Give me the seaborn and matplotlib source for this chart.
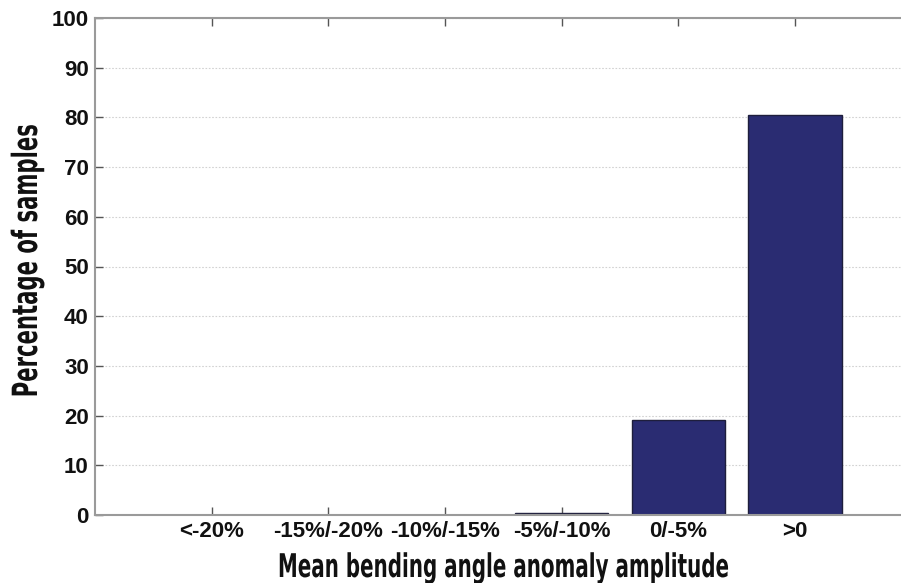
import matplotlib
matplotlib.use("Agg")
import matplotlib.pyplot as plt
from matplotlib.patheffects import AbstractPathEffect
from matplotlib.transforms import Affine2D
import seaborn as sns
import pandas as pd

categories = ["<-20%", "-15%/-20%", "-10%/-15%", "-5%/-10%", "0/-5%", ">0"]
percentages = [0.0, 0.0, 0.0, 0.4, 19.2, 80.5]
y_ticks = [0, 10, 20, 30, 40, 50, 60, 70, 80, 90, 100]

df = pd.DataFrame({"category": categories, "percent": percentages})


class Squeeze(AbstractPathEffect):
    """Draw text narrower along its own baseline, kept centred."""

    def __init__(self, sx):
        super().__init__()
        self.sx = sx

    def draw_path(self, renderer, gc, tpath, affine, rgbFace=None):
        ext = tpath.get_extents()
        cx = 0.5 * (ext.x0 + ext.x1)
        squeeze = Affine2D().translate(-cx, 0).scale(self.sx, 1).translate(cx, 0)
        renderer.draw_path(gc, tpath, squeeze + affine, rgbFace)


sns.set_theme(style="white")
plt.rcParams["font.family"] = ["Liberation Sans", "DejaVu Sans"]

fig = plt.figure(figsize=(9.01, 5.83), dpi=100)
W, H = 901, 583
left, right, top, bottom = 95, 911.7, 18, 515
ax = fig.add_axes([left / W, 1 - bottom / H, (right - left) / W, (bottom - top) / H])

sns.barplot(data=df, x="category", y="percent", color="#2a2c72",
            saturation=1, width=0.8, edgecolor="#1e1e3c", linewidth=1.0, ax=ax)

# categories sit at 1..6 with an empty slot on the left
for p in ax.patches:
    p.set_x(p.get_x() + 1)
ax.set_xticks(range(1, len(categories) + 1))
ax.set_xticklabels(categories)
ax.set_xlim(0, 7)
ax.set_ylim(0, 100)
ax.set_yticks(y_ticks)

ax.yaxis.grid(True, linestyle=(0, (1.5, 1.5)), color="#d2d2d2", linewidth=0.8)
ax.set_axisbelow(True)

for s in ax.spines.values():
    s.set_color("#9a9a9a")
    s.set_linewidth(1.5)

ax.tick_params(axis="both", direction="in", length=6, width=1.0, color="#555555",
               top=True, right=True, bottom=True, left=True,
               labelsize=16, pad=4.5)
for lbl in ax.get_xticklabels() + ax.get_yticklabels():
    lbl.set_fontweight("bold")
    lbl.set_color("#111111")

ax.set_xlabel("Mean bending angle anomaly amplitude", fontsize=23.5, fontweight="bold",
              family="DejaVu Sans", color="#111111")
ax.xaxis.label.set_path_effects([Squeeze(0.61)])
ax.xaxis.label.set_va("baseline")
ax.xaxis.set_label_coords(0.5, (bottom - 577) / (bottom - top))

ax.set_ylabel("Percentage of samples", fontsize=25, fontweight="bold",
              family="DejaVu Sans", color="#111111")
ax.yaxis.label.set_path_effects([Squeeze(0.61)])
ax.yaxis.label.set_rotation_mode("anchor")
ax.yaxis.label.set_ha("center")
ax.yaxis.label.set_va("baseline")
ax.yaxis.set_label_coords((37 - left) / (right - left), (bottom - 261) / (bottom - top))

fig.savefig("out.png", dpi=100)
